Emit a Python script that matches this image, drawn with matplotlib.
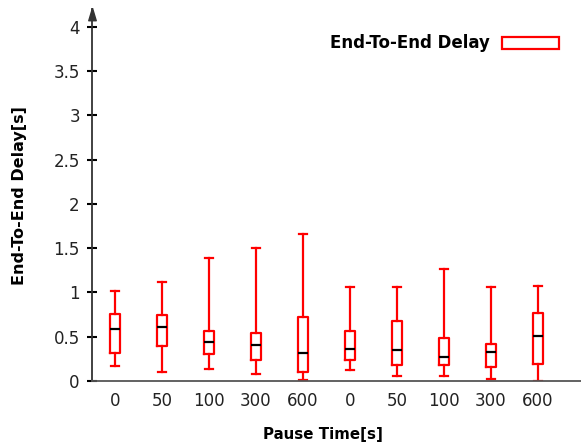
import matplotlib
matplotlib.use("Agg")
import matplotlib.pyplot as plt
from matplotlib.patches import Rectangle

# Pause-time groups (two scenarios of five pause times each)
categories = ["0", "50", "100", "300", "600", "0", "50", "100", "300", "600"]
whisker_low = [0.17, 0.10, 0.136, 0.076, 0.01, 0.128, 0.056, 0.056, 0.022, 0.003]
q1 = [0.32, 0.40, 0.30, 0.234, 0.10, 0.237, 0.18, 0.18, 0.16, 0.19]
median = [0.588, 0.614, 0.437, 0.407, 0.32, 0.358, 0.35, 0.275, 0.331, 0.508]
q3 = [0.757, 0.75, 0.56, 0.546, 0.72, 0.565, 0.674, 0.482, 0.418, 0.765]
whisker_high = [1.017, 1.12, 1.386, 1.50, 1.66, 1.06, 1.06, 1.27, 1.062, 1.077]
y_ticks = [0, 0.5, 1, 1.5, 2, 2.5, 3, 3.5, 4]
y_tick_labels = ["0", "0.5", "1", "1.5", "2", "2.5", "3", "3.5", "4"]

plt.rcParams["font.family"] = ["DejaVu Sans"]

W, H = 581, 445
fig = plt.figure(figsize=(W / 100, H / 100), dpi=100)
ax = fig.add_axes([92 / W, (H - 381) / H, (W - 92) / W, (381 - 9) / H])

stats = []
for i in range(len(categories)):
    stats.append(dict(whislo=whisker_low[i], q1=q1[i], med=median[i],
                      q3=q3[i], whishi=whisker_high[i], fliers=[]))

red = "#ff0000"
positions = list(range(1, len(categories) + 1))
ax.bxp(stats, positions=positions, widths=0.23, showfliers=False,
       boxprops=dict(color=red, linewidth=1.6),
       whiskerprops=dict(color=red, linewidth=1.6),
       capprops=dict(color=red, linewidth=1.6),
       medianprops=dict(color="black", linewidth=1.6),
       capwidths=0.19)

ax.set_xlim(0.511, 10.915)
ax.set_ylim(0, 4.2)
ax.set_xticks(positions)
ax.set_xticklabels(categories, fontsize=12, color="#222222")
ax.set_yticks(y_ticks)
ax.set_yticklabels(y_tick_labels, fontsize=12, color="#222222")
ax.tick_params(axis="x", length=0, pad=8)
ax.tick_params(axis="y", direction="inout", length=7.5, width=1.5,
               color="black", pad=5)

for side in ("top", "right"):
    ax.spines[side].set_visible(False)
ax.spines["left"].set_color("#333333")
ax.spines["left"].set_linewidth(1.3)
ax.spines["bottom"].set_color("#555555")
ax.spines["bottom"].set_linewidth(1.3)

# slender arrowhead on top of the y axis
arrow_head = [(0, 1), (-0.6, -1), (0.6, -1), (0, 1)]
ax.plot([0], [1.0 - 5 / 372], marker=arrow_head, markersize=9,
        color="#333333", transform=ax.transAxes, clip_on=False)

fig.text(20 / W, 1 - 196 / H, "End-To-End Delay[s]", rotation=90,
         ha="center", va="center", fontsize=11.5, fontweight="bold")
fig.text(323 / W, 1 - 434 / H, "Pause Time[s]", ha="center", va="center",
         fontsize=10.8, fontweight="bold")

# legend entry
fig.text(490 / W, 1 - 43 / H, "End-To-End Delay", ha="right", va="center",
         fontsize=12, fontweight="bold")
fig.patches.append(Rectangle((502 / W, 1 - 49 / H), 57 / W, 12 / H,
                             transform=fig.transFigure, facecolor="white",
                             edgecolor=red, linewidth=1.6))

fig.savefig("out.png", dpi=100)
